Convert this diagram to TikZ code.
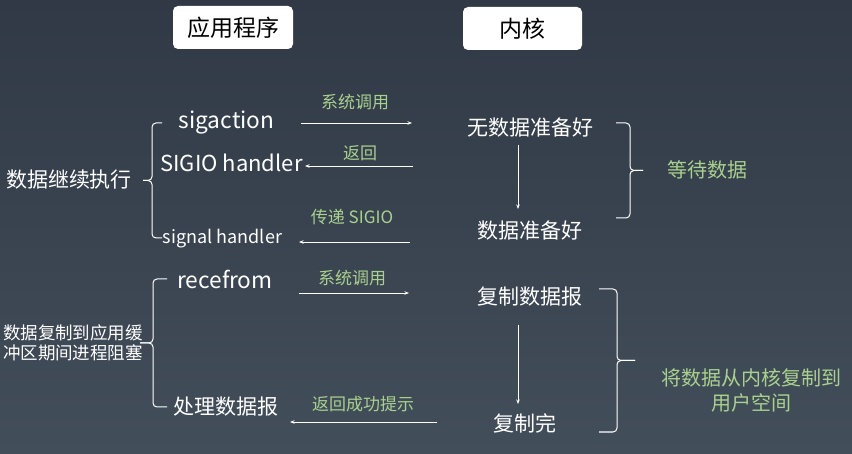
\documentclass[tikz,border=0pt]{standalone}
\usepackage{fontspec}
\setmainfont{Noto Sans CJK SC}
\usetikzlibrary{arrows.meta}
\definecolor{bgtop}{RGB}{48,57,69}
\definecolor{bgbot}{RGB}{67,78,91}
\definecolor{lblgreen}{HTML}{A9D18E}
\begin{document}
\begin{tikzpicture}[x=1pt,y=-1pt,
  mainnode/.style={text=white, inner sep=0pt, font=\fontsize{21pt}{25pt}\selectfont},
  latnode/.style={text=white, inner sep=0pt, font=\fontsize{22.7pt}{26pt}\selectfont},
  lblnode/.style={text=lblgreen, inner sep=0pt, font=\fontsize{17pt}{20pt}\selectfont},
  hdrnode/.style={fill=white, rounded corners=5pt, minimum width=120pt, minimum height=43pt, inner sep=0pt, text=black, font=\fontsize{23pt}{27pt}\selectfont},
  conn/.style={draw=white, line width=0.8pt, -{Stealth[length=4.5pt,width=3.5pt]}},
  bracepath/.style={draw=white, line width=1pt, rounded corners=4pt}]
\useasboundingbox (0,0) rectangle (852,454);
\shade[top color=bgtop, bottom color=bgbot] (0,0) rectangle (852,454);
% headers
\node[hdrnode] (app) at (233,27.5) {应用程序};
\node[hdrnode, minimum width=119pt] (kern) at (522.5,28.5) {内核};
% left side
\node[latnode] (sigaction) at (226.5,123) {sigaction};
\node[latnode, font=\fontsize{22pt}{26pt}\selectfont] (sigio) at (231.5,163) {SIGIO handler};
\node[latnode, font=\fontsize{18pt}{22pt}\selectfont] (sighand) at (222.5,238.5) {signal handler};
\node[mainnode] (cont) at (69,180) {数据继续执行};
\node[latnode] (recv) at (225,279) {recefrom};
\node[mainnode] (proc) at (226,407) {处理数据报};
\node[mainnode, font=\fontsize{17.5pt}{20pt}\selectfont, align=left] (block) at (73,343) {数据复制到应用缓\\冲区期间进程阻塞};
% right side
\node[mainnode] (nodata) at (530,128) {无数据准备好};
\node[mainnode] (ready) at (530,231) {数据准备好};
\node[mainnode] (copy) at (530,297) {复制数据报};
\node[mainnode] (done) at (525,423) {复制完};
\node[lblnode, font=\fontsize{20pt}{24pt}\selectfont] (wait) at (707,170) {等待数据};
\node[lblnode, font=\fontsize{20pt}{25pt}\selectfont, align=center] (k2u) at (751,390.5) {将数据从内核复制到\\用户空间};
% arrow labels
\node[lblnode] (l1) at (355,102) {系统调用};
\node[lblnode] (l2) at (360,153) {返回};
\node[lblnode] (l3) at (352,217) {传递 SIGIO};
\node[lblnode] (l4) at (352,278) {系统调用};
\node[lblnode] (l5) at (363,404) {返回成功提示};
% arrow end points
\coordinate (a1s) at (301,123); \coordinate (a1e) at (412,123);
\coordinate (a2s) at (413,166); \coordinate (a2e) at (305,166);
\coordinate (a3s) at (410,242); \coordinate (a3e) at (299,242);
\coordinate (a4s) at (299,293); \coordinate (a4e) at (409,293);
\coordinate (a5s) at (437,422); \coordinate (a5e) at (290,422);
\coordinate (v1s) at (518,145); \coordinate (v1e) at (518,209);
\coordinate (v2s) at (518,325); \coordinate (v2e) at (518,404);
\draw[conn] (a1s) -- (a1e);
\draw[conn] (a2s) -- (a2e);
\draw[conn] (a3s) -- (a3e);
\draw[conn] (a4s) -- (a4e);
\draw[conn] (a5s) -- (a5e);
\draw[conn] (v1s) -- (v1e);
\draw[conn] (v2s) -- (v2e);
% braces
\draw[bracepath] (162,123) -- (152,123) -- (152,180.5) -- (143,180.5);
\draw[bracepath] (143,180.5) -- (152,180.5) -- (152,238) -- (162,238);
\draw[bracepath] (167,279) -- (153,279) -- (153,343) -- (140,343);
\draw[bracepath] (140,343) -- (153,343) -- (153,407) -- (167,407);
\draw[bracepath] (616,123) -- (630,123) -- (630,170.5) -- (643,170.5);
\draw[bracepath] (643,170.5) -- (630,170.5) -- (630,218) -- (616,218);
\draw[bracepath] (599,289) -- (617,289) -- (617,360.5) -- (635,360.5);
\draw[bracepath] (635,360.5) -- (617,360.5) -- (617,432) -- (599,432);
\end{tikzpicture}
\end{document}
